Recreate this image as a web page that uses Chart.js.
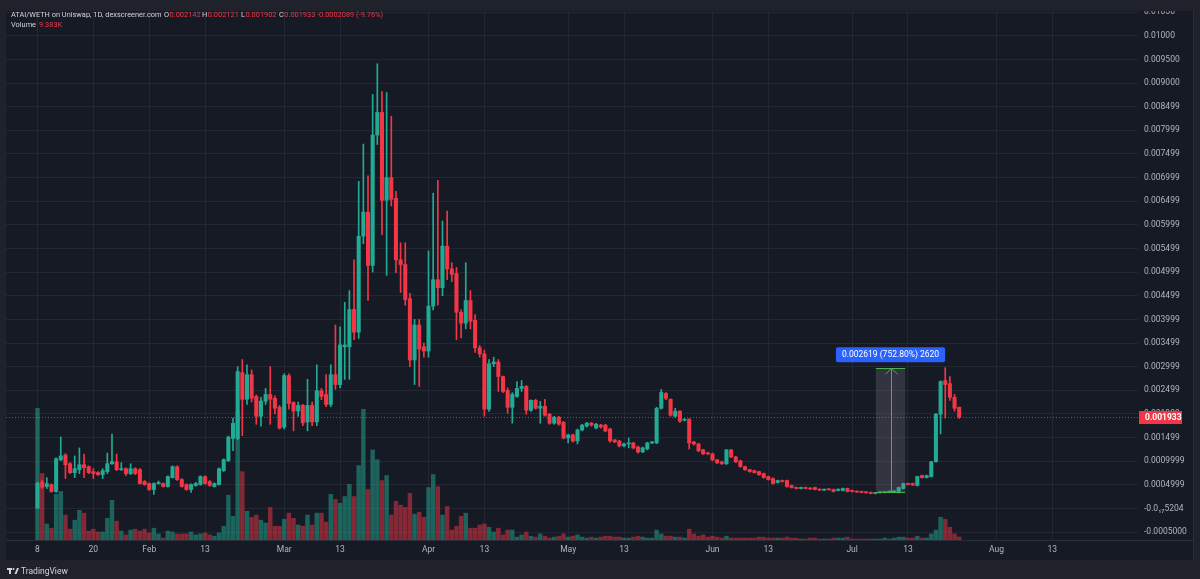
<!DOCTYPE html>
<html>
<head>
<meta charset="utf-8">
<title>ATAI/WETH 1D</title>
<script src="https://cdn.jsdelivr.net/npm/chart.js@4.4.1/dist/chart.umd.min.js"></script>
<style>
  html, body { margin: 0; padding: 0; background: #1f222b; }
  canvas { display: block; }
</style>
</head>
<body>
<canvas id="chart" width="1200" height="579"></canvas>
<script>
// daily candles, day 0 = 2024-01-08
const opens = [
  0.000005, 0.000553, 0.000463, 0.000505, 0.000358, 0.001030, 0.001130, 0.000945, 0.000757, 0.000819, // 0
  0.000924, 0.000882, 0.000778, 0.000757, 0.000715, 0.000778, 0.000945, 0.000987, 0.000820, 0.000840, // 10
  0.000736, 0.000840, 0.000819, 0.000568, 0.000526, 0.000400, 0.000526, 0.000526, 0.000463, 0.000652, // 20
  0.000882, 0.000610, 0.000505, 0.000400, 0.000484, 0.000505, 0.000673, 0.000568, 0.000463, 0.000505, // 30
  0.000798, 0.001010, 0.001480, 0.001480, 0.002874, 0.002308, 0.002830, 0.002370, 0.001950, 0.002270, // 40
  0.002410, 0.002330, 0.002140, 0.001720, 0.002810, 0.002240, 0.002060, 0.002180, 0.001830, 0.002180, // 50
  0.001830, 0.002490, 0.002410, 0.002200, 0.002830, 0.002620, 0.003420, 0.003420, 0.004210, 0.003730, // 60
  0.005760, 0.006270, 0.005140, 0.007900, 0.008380, 0.006520, 0.007000, 0.006560, 0.005260, 0.005160, // 70
  0.004440, 0.003140, 0.003880, 0.003420, 0.003330, 0.004280, 0.004840, 0.004670, 0.005550, 0.005070, // 80
  0.004970, 0.004150, 0.003920, 0.004400, 0.003980, 0.003400, 0.003270, 0.002100, 0.003060, 0.003100, // 90
  0.002790, 0.002496, 0.002140, 0.002370, 0.002538, 0.002580, 0.002077, 0.002287, 0.002119, 0.002160, // 100
  0.001993, 0.001803, 0.001930, 0.001824, 0.001490, 0.001553, 0.001427, 0.001658, 0.001742, 0.001803, // 110
  0.001700, 0.001763, 0.001763, 0.001679, 0.001448, 0.001427, 0.001322, 0.001364, 0.001385, 0.001300, // 120
  0.001195, 0.001260, 0.001385, 0.001385, 0.002119, 0.002433, 0.002308, 0.001951, 0.002056, 0.001866, // 130
  0.001887, 0.001406, 0.001364, 0.001237, 0.001174, 0.001153, 0.001027, 0.000985, 0.000943, 0.001237, // 140
  0.001090, 0.001006, 0.000882, 0.000819, 0.000799, 0.000778, 0.000736, 0.000673, 0.000631, 0.000547, // 150
  0.000589, 0.000589, 0.000484, 0.000442, 0.000421, 0.000442, 0.000430, 0.000442, 0.000406, 0.000386, // 160
  0.000406, 0.000400, 0.000379, 0.000379, 0.000421, 0.000379, 0.000358, 0.000358, 0.000345, 0.000337, // 170
  0.000316, 0.000330, 0.000337, 0.000345, 0.000348, 0.000337, 0.000421, 0.000526, 0.000526, 0.000484, // 180
  0.000694, 0.000652, 0.000673, 0.000987, 0.001993, 0.002706, 0.002640, 0.002349, 0.002142           // 190
];
const highs = [
  0.000560, 0.000600, 0.000652, 0.000520, 0.001070, 0.001510, 0.001160, 0.000970, 0.001110, 0.001280,
  0.001150, 0.000900, 0.000840, 0.000780, 0.000840, 0.001170, 0.001570, 0.001150, 0.000966, 0.000860,
  0.000945, 0.000860, 0.000840, 0.000590, 0.000540, 0.000540, 0.000580, 0.000540, 0.000690, 0.000900,
  0.000900, 0.000630, 0.000520, 0.000520, 0.000550, 0.000690, 0.000690, 0.000590, 0.000540, 0.000860,
  0.001050, 0.001530, 0.001910, 0.003000, 0.003150, 0.003040, 0.002930, 0.002400, 0.002350, 0.002540,
  0.003000, 0.002380, 0.002180, 0.002850, 0.002850, 0.002260, 0.002250, 0.002200, 0.002730, 0.002250,
  0.003040, 0.002540, 0.002830, 0.003040, 0.003880, 0.003840, 0.004360, 0.004610, 0.005260, 0.006920,
  0.007710, 0.007040, 0.008760, 0.009410, 0.008820, 0.008800, 0.008300, 0.006710, 0.005620, 0.005620,
  0.004550, 0.004000, 0.004000, 0.003500, 0.005450, 0.006670, 0.006940, 0.006080, 0.006290, 0.005200,
  0.005100, 0.004200, 0.005200, 0.004610, 0.004100, 0.003450, 0.003350, 0.003150, 0.003200, 0.003150,
  0.002800, 0.002550, 0.002450, 0.002685, 0.002706, 0.002600, 0.002300, 0.002310, 0.002266, 0.002308,
  0.002010, 0.001950, 0.001950, 0.001840, 0.001570, 0.001570, 0.001680, 0.001780, 0.001820, 0.001820,
  0.001800, 0.001780, 0.001780, 0.001700, 0.001460, 0.001440, 0.001380, 0.001490, 0.001400, 0.001320,
  0.001300, 0.001400, 0.001420, 0.002140, 0.002517, 0.002450, 0.002320, 0.002119, 0.002070, 0.001900,
  0.001900, 0.001420, 0.001380, 0.001250, 0.001190, 0.001170, 0.001040, 0.001000, 0.001250, 0.001250,
  0.001100, 0.001020, 0.000895, 0.000830, 0.000810, 0.000790, 0.000750, 0.000685, 0.000645, 0.000600,
  0.000600, 0.000600, 0.000495, 0.000452, 0.000452, 0.000452, 0.000440, 0.000452, 0.000416, 0.000410,
  0.000416, 0.000410, 0.000416, 0.000431, 0.000431, 0.000389, 0.000368, 0.000368, 0.000355, 0.000347,
  0.000340, 0.000355, 0.000358, 0.000368, 0.000375, 0.000452, 0.000536, 0.000536, 0.000536, 0.000683,
  0.000704, 0.000704, 0.000997, 0.002010, 0.002700, 0.002978, 0.002790, 0.002412, 0.002142
];
const lows = [
  0.000002, 0.000430, 0.000421, 0.000340, 0.000340, 0.001010, 0.000631, 0.000736, 0.000652, 0.000736,
  0.000652, 0.000736, 0.000631, 0.000700, 0.000631, 0.000736, 0.000930, 0.000798, 0.000800, 0.000694,
  0.000715, 0.000715, 0.000510, 0.000490, 0.000380, 0.000296, 0.000510, 0.000450, 0.000450, 0.000640,
  0.000590, 0.000450, 0.000380, 0.000337, 0.000470, 0.000490, 0.000510, 0.000470, 0.000450, 0.000490,
  0.000780, 0.000990, 0.001220, 0.001450, 0.001540, 0.002200, 0.002250, 0.001780, 0.001740, 0.002200,
  0.001780, 0.002000, 0.001680, 0.001680, 0.002100, 0.001640, 0.001950, 0.001750, 0.001640, 0.001750,
  0.001750, 0.002300, 0.002150, 0.002150, 0.002520, 0.002550, 0.002730, 0.002730, 0.003570, 0.003600,
  0.005600, 0.004400, 0.005000, 0.007700, 0.005790, 0.004930, 0.006400, 0.004990, 0.004570, 0.004300,
  0.003000, 0.002620, 0.002580, 0.003200, 0.003200, 0.004200, 0.004300, 0.004500, 0.004840, 0.004800,
  0.003570, 0.003610, 0.003800, 0.003800, 0.003300, 0.003200, 0.001950, 0.002050, 0.003000, 0.002475,
  0.002450, 0.002014, 0.001803, 0.002350, 0.002475, 0.001993, 0.002050, 0.002100, 0.001803, 0.001950,
  0.001780, 0.001780, 0.001760, 0.001470, 0.001385, 0.001400, 0.001364, 0.001640, 0.001720, 0.001740,
  0.001680, 0.001700, 0.001620, 0.001400, 0.001390, 0.001300, 0.001300, 0.001280, 0.001260, 0.001170,
  0.001180, 0.001240, 0.001370, 0.001370, 0.002100, 0.002300, 0.001950, 0.001930, 0.001820, 0.001850,
  0.001258, 0.001340, 0.001200, 0.001140, 0.001140, 0.001010, 0.000950, 0.000930, 0.000930, 0.001075,
  0.000970, 0.000870, 0.000805, 0.000765, 0.000745, 0.000700, 0.000640, 0.000598, 0.000512, 0.000535,
  0.000555, 0.000450, 0.000430, 0.000410, 0.000410, 0.000410, 0.000400, 0.000390, 0.000376, 0.000376,
  0.000384, 0.000348, 0.000369, 0.000369, 0.000348, 0.000348, 0.000335, 0.000327, 0.000320, 0.000306,
  0.000306, 0.000320, 0.000327, 0.000335, 0.000338, 0.000327, 0.000411, 0.000495, 0.000485, 0.000474,
  0.000642, 0.000642, 0.000663, 0.000977, 0.001574, 0.001910, 0.002287, 0.002056, 0.001902
];
const closes = [
  0.000532, 0.000449, 0.000526, 0.000358, 0.001050, 0.001110, 0.000924, 0.000757, 0.000840, 0.000924,
  0.000861, 0.000757, 0.000736, 0.000715, 0.000799, 0.000945, 0.000987, 0.000820, 0.000840, 0.000736,
  0.000840, 0.000736, 0.000526, 0.000505, 0.000400, 0.000526, 0.000547, 0.000463, 0.000673, 0.000882,
  0.000610, 0.000463, 0.000400, 0.000505, 0.000526, 0.000673, 0.000526, 0.000484, 0.000526, 0.000840,
  0.001030, 0.001510, 0.001800, 0.002895, 0.002308, 0.002830, 0.002330, 0.001950, 0.002270, 0.002410,
  0.002310, 0.002120, 0.001700, 0.002810, 0.002220, 0.002060, 0.002180, 0.001810, 0.002180, 0.001830,
  0.002490, 0.002370, 0.002200, 0.002830, 0.002620, 0.003460, 0.003460, 0.004210, 0.003730, 0.005760,
  0.006270, 0.005140, 0.007900, 0.008380, 0.006520, 0.007000, 0.006540, 0.005260, 0.005160, 0.004420,
  0.003140, 0.003880, 0.003370, 0.003330, 0.004280, 0.004840, 0.004670, 0.005550, 0.005070, 0.004950,
  0.004150, 0.003920, 0.004400, 0.003960, 0.003400, 0.003270, 0.002100, 0.003060, 0.003100, 0.002790,
  0.002475, 0.002140, 0.002412, 0.002538, 0.002580, 0.002077, 0.002287, 0.002119, 0.002160, 0.001972,
  0.001803, 0.001930, 0.001782, 0.001490, 0.001553, 0.001427, 0.001658, 0.001763, 0.001803, 0.001763,
  0.001782, 0.001721, 0.001637, 0.001427, 0.001406, 0.001322, 0.001364, 0.001385, 0.001280, 0.001195,
  0.001280, 0.001385, 0.001406, 0.002119, 0.002454, 0.002328, 0.001972, 0.002056, 0.001845, 0.001887,
  0.001385, 0.001364, 0.001217, 0.001153, 0.001153, 0.001027, 0.000964, 0.000943, 0.001237, 0.001090,
  0.000985, 0.000882, 0.000819, 0.000778, 0.000757, 0.000715, 0.000652, 0.000610, 0.000526, 0.000589,
  0.000568, 0.000463, 0.000442, 0.000421, 0.000442, 0.000421, 0.000410, 0.000400, 0.000386, 0.000400,
  0.000394, 0.000358, 0.000406, 0.000421, 0.000358, 0.000358, 0.000345, 0.000337, 0.000330, 0.000316,
  0.000330, 0.000345, 0.000348, 0.000358, 0.000365, 0.000442, 0.000526, 0.000505, 0.000495, 0.000673,
  0.000652, 0.000694, 0.000987, 0.001993, 0.002685, 0.002620, 0.002349, 0.002119, 0.001933
];
// volume in thousands
const volumes = [
  412, 208, 50, 37, 143, 152, 78, 34, 62, 93,
  84, 28, 34, 25, 25, 68, 124, 59, 28, 16,
  31, 34, 28, 34, 22, 37, 19, 6, 28, 25,
  19, 19, 19, 25, 16, 19, 22, 16, 12, 22,
  43, 140, 74, 403, 214, 90, 71, 78, 62, 53,
  102, 43, 43, 65, 84, 68, 47, 43, 78, 47,
  84, 84, 56, 143, 127, 115, 136, 174, 136, 233,
  409, 158, 282, 251, 186, 202, 78, 121, 109, 102,
  146, 81, 87, 71, 164, 205, 167, 78, 105, 31,
  43, 74, 84, 37, 37, 47, 50, 40, 25, 37,
  16, 31, 31, 9, 16, 25, 12, 9, 19, 12,
  6, 9, 12, 19, 9, 12, 16, 9, 6, 9,
  6, 9, 12, 12, 9, 9, 6, 6, 9, 12,
  9, 6, 6, 31, 19, 12, 12, 9, 9, 6,
  34, 19, 12, 16, 9, 12, 9, 6, 12, 6,
  6, 6, 6, 6, 6, 9, 9, 6, 6, 6,
  6, 9, 6, 6, 3, 3, 6, 6, 3, 3,
  3, 6, 6, 6, 9, 3, 3, 3, 3, 3,
  3, 3, 6, 3, 6, 9, 9, 6, 6, 12,
  6, 6, 19, 31, 71, 65, 40, 19, 9.383
];

const xTickDays = [0, 12, 24, 36, 53, 65, 84, 96, 114, 126, 145, 157, 175, 187, 206, 218];
const xTickLabels = ['8', '20', 'Feb', '13', 'Mar', '13', 'Apr', '13', 'May', '13', 'Jun', '13', 'Jul', '13', 'Aug', '13'];
const yTickValues = [0.0105, 0.01, 0.0095, 0.009, 0.0085, 0.008, 0.0075, 0.007, 0.0065, 0.006, 0.0055, 0.005,
  0.0045, 0.004, 0.0035, 0.003, 0.0025, 0.002, 0.0015, 0.001, 0.0005, 0, -0.0005];
const yTickLabels = ['0.01050', '0.01000', '0.009500', '0.009000', '0.008499', '0.007999', '0.007499', '0.006999',
  '0.006499', '0.005999', '0.005499', '0.004999', '0.004499', '0.003999', '0.003499', '0.002999', '0.002499',
  '0.001999', '0.001499', '0.0009999', '0.0004999', '-0.0\u2081\u20875204', '-0.0005000'];

const lastPrice = 0.001933;
const lastPriceLabel = '0.001933';
const measureDays = [180.1, 186.4];
const measurePrices = [0.000348, 0.002967];
const measureLabel = '0.002619 (752.80%) 2620';

const legendTitle = 'ATAI/WETH on Uniswap, 1D, dexscreener.com';
const legendOHLC = [['O', '0.002142'], ['H', '0.002121'], ['L', '0.001902'], ['C', '0.001933']];
const legendChange = '-0.0002089 (-9.76%)';
const legendVolume = '9.383K';

const GREEN = '#22ab94';
const RED = '#f23645';
const TEXT = '#b2b5be';
const FONT = "Roboto, 'Liberation Sans', sans-serif";

const days = opens.map((_, i) => i);
const isUp = days.map(i => closes[i] >= opens[i]);

const framePlugin = {
  id: 'frame',
  beforeDraw(chart) {
    const c = chart.ctx;
    const a = chart.chartArea;
    const right = chart.scales.y.right;
    const bottom = chart.scales.x.bottom;
    c.save();
    c.fillStyle = '#1f222b';
    c.fillRect(0, 0, chart.width, chart.height);
    c.fillStyle = '#161a25';
    c.fillRect(a.left, a.top, right - a.left, bottom - a.top);
    c.restore();
  },
  beforeDatasetsDraw(chart) {
    // last price dotted line
    const c = chart.ctx;
    const a = chart.chartArea;
    const y = Math.round(chart.scales.y.getPixelForValue(lastPrice)) + 0.5;
    c.save();
    c.strokeStyle = 'rgba(242,54,69,0.8)';
    c.lineWidth = 1;
    c.setLineDash([1, 2]);
    c.beginPath();
    c.moveTo(a.left, y);
    c.lineTo(a.right, y);
    c.stroke();
    c.restore();
  },
  afterDatasetsDraw(chart) {
    // price range measure tool
    const c = chart.ctx;
    const xs = chart.scales.x, ys = chart.scales.y;
    const x0 = xs.getPixelForValue(measureDays[0]);
    const x1 = xs.getPixelForValue(measureDays[1]);
    const yb = ys.getPixelForValue(measurePrices[0]);
    const yt = ys.getPixelForValue(measurePrices[1]);
    const cx = Math.round((x0 + x1) / 2) + 0.5;
    c.save();
    c.fillStyle = 'rgba(134,137,147,0.25)';
    c.fillRect(x0, yt, x1 - x0, yb - yt);
    c.strokeStyle = '#4caf50';
    c.lineWidth = 1;
    c.beginPath();
    c.moveTo(x0, Math.round(yt) + 0.5); c.lineTo(x1, Math.round(yt) + 0.5);
    c.moveTo(x0, Math.round(yb) + 0.5); c.lineTo(x1, Math.round(yb) + 0.5);
    c.moveTo(cx, yb); c.lineTo(cx, yt);
    c.moveTo(cx - 6, yt + 6); c.lineTo(cx, yt); c.lineTo(cx + 6, yt + 6);
    c.stroke();
    c.font = `8.5px ${FONT}`;
    const w = c.measureText(measureLabel).width + 12;
    const h = 15;
    const bx = (x0 + x1) / 2 - w / 2;
    const by = yt - 6 - h;
    c.fillStyle = '#2962ff';
    c.beginPath();
    c.roundRect(bx, by, w, h, 2);
    c.fill();
    c.fillStyle = '#ffffff';
    c.textAlign = 'center';
    c.textBaseline = 'middle';
    c.fillText(measureLabel, (x0 + x1) / 2, by + h / 2 + 0.5);
    c.restore();
  },
  afterDraw(chart) {
    const c = chart.ctx;
    const a = chart.chartArea;
    const right = chart.scales.y.right;
    const bottom = chart.scales.x.bottom;
    c.save();
    // cut the top label at the pane edge
    c.fillStyle = '#1f222b';
    c.fillRect(0, 0, chart.width, a.top);
    // separators
    c.strokeStyle = '#2a2e39';
    c.lineWidth = 1;
    c.beginPath();
    c.moveTo(a.left, a.bottom + 0.5); c.lineTo(right, a.bottom + 0.5);
    c.moveTo(right - 0.5, a.top); c.lineTo(right - 0.5, bottom);
    c.stroke();

    // last price tag on the axis
    const py = chart.scales.y.getPixelForValue(lastPrice);
    c.fillStyle = RED;
    c.fillRect(a.right + 1, py - 6, 43, 13);
    c.fillStyle = '#ffffff';
    c.font = `bold 8.5px ${FONT}`;
    c.textBaseline = 'middle';
    c.textAlign = 'left';
    c.fillText(lastPriceLabel, a.right + 7, py + 0.5);

    // legend
    c.font = `7.4px ${FONT}`;
    c.fillStyle = '#d1d4dc';
    c.fillText(legendTitle, 11, 15);
    const slots = [164, 202, 241, 279];
    legendOHLC.forEach(([k, v], i) => {
      c.fillStyle = '#d1d4dc';
      c.fillText(k, slots[i], 15);
      c.fillStyle = RED;
      c.fillText(v, slots[i] + c.measureText(k).width + 0.5, 15);
    });
    c.fillText(legendChange, 317, 15);
    c.fillStyle = '#d1d4dc';
    c.fillText('Volume', 11, 25);
    c.fillStyle = RED;
    c.fillText(legendVolume, 39, 25);

    // TradingView mark
    c.fillStyle = '#d1d4dc';
    c.fillRect(7, 568, 5, 2);
    c.fillRect(9, 568, 2, 6);
    c.beginPath();
    c.arc(13.5, 569, 1, 0, Math.PI * 2);
    c.fill();
    c.beginPath();
    c.moveTo(14.5, 574); c.lineTo(17, 568); c.lineTo(19, 568); c.lineTo(16.5, 574);
    c.closePath();
    c.fill();
    c.font = `8.5px ${FONT}`;
    c.fillText('TradingView', 21, 571.5);
    c.restore();
  }
};

new Chart(document.getElementById('chart'), {
  type: 'bar',
  plugins: [framePlugin],
  data: {
    datasets: [
      {
        label: 'body',
        data: days.map(i => ({ x: i, y: [opens[i], closes[i]] })),
        backgroundColor: isUp.map(u => (u ? GREEN : RED)),
        barThickness: 3.4,
        minBarLength: 1,
        grouped: false,
        order: 1,
        yAxisID: 'y',
      },
      {
        label: 'wick',
        data: days.map(i => ({ x: i, y: [lows[i], highs[i]] })),
        backgroundColor: isUp.map(u => (u ? GREEN : RED)),
        barThickness: 1,
        grouped: false,
        order: 2,
        yAxisID: 'y',
      },
      {
        label: 'volume',
        data: days.map(i => ({ x: i, y: volumes[i] })),
        backgroundColor: isUp.map(u => (u ? 'rgba(34,171,148,0.5)' : 'rgba(242,54,69,0.5)')),
        barThickness: 3.8,
        grouped: false,
        order: 3,
        yAxisID: 'v',
      },
    ],
  },
  options: {
    responsive: false,
    animation: false,
    devicePixelRatio: 1,
    layout: { padding: { left: 6, top: 6, right: 6, bottom: 19 } },
    scales: {
      x: {
        type: 'linear',
        min: -6.767,
        max: 236.41,
        offset: false,
        grid: { color: 'rgba(60,64,76,0.35)', drawTicks: false, offset: false },
        border: { display: false },
        afterBuildTicks(scale) { scale.ticks = xTickDays.map(v => ({ value: v })); },
        afterFit(scale) { scale.height = 20; },
        ticks: {
          color: TEXT,
          font: { size: 8.5, family: FONT },
          padding: 5,
          autoSkip: false,
          maxRotation: 0,
          callback: (v, i) => xTickLabels[i],
        },
      },
      y: {
        position: 'right',
        min: -0.000669,
        max: 0.010524,
        grid: { color: 'rgba(60,64,76,0.35)', drawTicks: false },
        border: { display: false },
        afterBuildTicks(scale) { scale.ticks = yTickValues.map(v => ({ value: v })); },
        afterFit(scale) { scale.width = 56; },
        ticks: {
          color: TEXT,
          font: { size: 8.5, family: FONT },
          padding: 6,
          callback: (v, i) => yTickLabels[i],
        },
      },
      v: {
        display: false,
        min: 0,
        max: 1655,
      },
    },
    plugins: {
      legend: { display: false },
      tooltip: { enabled: false },
    },
  },
});
</script>
</body>
</html>
